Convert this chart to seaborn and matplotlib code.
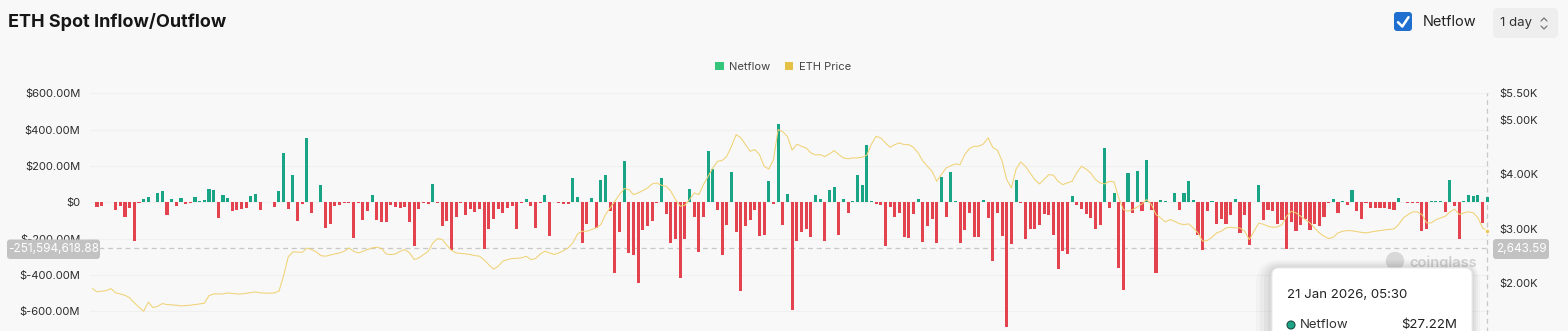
import numpy as np
import pandas as pd
import matplotlib
matplotlib.use("Agg")
import matplotlib.pyplot as plt
import seaborn as sns
from matplotlib.patches import FancyBboxPatch, Patch, Circle
from matplotlib.lines import Line2D
from matplotlib.transforms import IdentityTransform

# ---------------- data (netflow in $M, one bar per day) ----------------
netflow = [
    4, -28, -20, 2, 2, -42, -20, -79, -31, -211,
    -2, 20, 29, 2, 51, 62, -72, 18, -20, 26,
    -9, -2, 31, 9, 11, 72, 66, -86, 42, 26,
    -50, -42, -35, -29, 35, 46, -44, 3, 2, -28,
    64, 272, -37, 150, -101, -12, 356, -57, 4, 95,
    -141, -119, -20, -14, -4, -2, -196, -3, -100, -46,
    42, -97, -108, -108, -13, -25, -31, -25, -106, -243,
    -39, -2, -9, 103, -2, -132, -104, -265, -82, -4,
    -68, -39, -55, -37, -259, -147, -92, -39, -60, -33,
    -20, -149, -2, 16, -23, -141, -3, 39, -186, 4,
    -3, -9, -9, 133, 30, -223, -119, 25, -143, 125,
    151, -47, -388, -166, 226, -281, -292, -443, -151, -133,
    -102, -2, 136, -62, -223, -200, -415, -200, 75, -83,
    -271, -81, 281, 185, -43, -292, -127, 169, -163, -491,
    -130, -98, -41, -185, -182, 118, -9, 433, -127, 48,
    -595, -215, -163, -148, -193, 39, 20, -214, 69, 84,
    -182, 18, -57, 7, 149, 94, 317, 9, -7, -13,
    -243, -26, -83, -60, -193, -197, -65, 20, -220, -131,
    -90, -225, 137, -82, 169, 9, -225, -155, -61, -189,
    -189, 13, -86, -325, -60, -188, -686, -230, 124, -2,
    -200, -149, -149, -127, -62, -72, -178, -365, -268, -286,
    35, -13, -39, -62, -86, -149, -127, 297, -31, 50,
    -363, -484, 162, -57, 171, -47, 231, -40, -391, 11,
    7, 2, 52, -44, 53, 118, 13, -180, -264, -50,
    6, -119, -90, -118, -72, 17, -170, -69, -235, 2,
    96, -99, -45, -49, -122, -100, -255, -106, -156, -123,
    -92, -150, -117, -133, -83, -3, 20, -60, 5, -16,
    70, -48, -90, -4, -30, -31, -33, -31, -37, -40,
    26, 2, -3, -3, -4, -156, -146, 7, 9, 7,
    -56, 120, -22, -200, 5, 42, 32, 41, -114, 27.22,
]

# ETH price read at these day indices
price_idx = [
    0, 1, 3, 4, 5, 6, 7, 8, 9, 10, 11, 12, 13, 14, 15, 16, 18, 19, 21, 22,
    24, 25, 26, 28, 29, 31, 32, 34, 35, 36, 38, 39, 40, 41, 42, 43, 45, 46, 47, 48,
    49, 50, 52, 53, 54, 55, 56, 57, 58, 60, 61, 62, 63, 64, 65, 66, 67, 68, 69, 70,
    71, 72, 73, 74, 75, 76, 77, 78, 80, 81, 82, 83, 84, 85, 86, 87, 88, 89, 90, 92,
    93, 94, 95, 96, 97, 98, 99, 100, 101, 102, 103, 104, 105, 106, 107, 108, 109, 110, 111, 112,
    113, 114, 115, 116, 117, 118, 119, 120, 121, 122, 123, 124, 125, 126, 127, 128, 129, 130, 131, 132,
    133, 134, 135, 136, 137, 138, 139, 140, 141, 142, 143, 144, 145, 146, 147, 148, 149, 150, 151, 152,
    153, 154, 155, 156, 157, 158, 159, 160, 161, 162, 163, 164, 165, 166, 167, 168, 169, 170, 171, 172,
    173, 174, 175, 176, 177, 178, 179, 180, 181, 182, 183, 184, 185, 186, 187, 188, 189, 190, 191, 192,
    193, 194, 195, 196, 197, 198, 199, 200, 201, 202, 203, 204, 205, 206, 207, 208, 210, 211, 212, 213,
    214, 215, 216, 217, 218, 219, 220, 221, 222, 223, 224, 225, 226, 227, 228, 229, 230, 231, 232, 233,
    234, 235, 236, 237, 238, 239, 240, 241, 242, 243, 244, 245, 246, 247, 248, 249, 250, 251, 252, 253,
    254, 255, 256, 257, 258, 259, 260, 261, 262, 263, 264, 265, 266, 267, 268, 269, 270, 272, 273, 275,
    276, 277, 279, 280, 281, 282, 283, 284, 285, 286, 287, 288, 289, 290, 291, 292, 293, 294, 295, 296,
    297, 298, 299,
]
price_val = [
    1891, 1830, 1854, 1891, 1811, 1792, 1768, 1719, 1627, 1546, 1472, 1640, 1540, 1564, 1614, 1596, 1583, 1571, 1583, 1596,
    1620, 1760, 1792, 1792, 1811, 1792, 1792, 1817, 1830, 1811, 1805, 1811, 1842, 2130, 2480, 2570, 2560, 2640, 2612, 2569,
    2500, 2489, 2532, 2550, 2581, 2643, 2581, 2550, 2581, 2643, 2655, 2630, 2530, 2520, 2532, 2581, 2612, 2550, 2427, 2458,
    2520, 2581, 2735, 2815, 2797, 2692, 2593, 2550, 2532, 2520, 2501, 2489, 2420, 2330, 2250, 2304, 2400, 2427, 2446, 2458,
    2489, 2427, 2446, 2530, 2581, 2550, 2520, 2550, 2593, 2643, 2735, 2900, 2951, 2951, 2982, 3012, 3074, 3259, 3382, 3505,
    3628, 3739, 3721, 3628, 3659, 3702, 3751, 3825, 3844, 3800, 3782, 3690, 3536, 3413, 3431, 3536, 3659, 3628, 3813, 3967,
    4121, 4244, 4257, 4337, 4521, 4737, 4680, 4550, 4429, 4460, 4368, 4152, 4100, 4275, 4830, 4790, 4700, 4450, 4560, 4520,
    4491, 4400, 4360, 4368, 4330, 4380, 4441, 4370, 4306, 4290, 4306, 4306, 4318, 4355, 4560, 4706, 4676, 4583, 4503, 4552,
    4583, 4552, 4552, 4500, 4400, 4250, 4150, 4060, 3874, 4000, 4120, 4160, 4195, 4183, 4368, 4478, 4521, 4521, 4565, 4676,
    4500, 4450, 4250, 3906, 3751, 4100, 4232, 4152, 4030, 3906, 3825, 3906, 3998, 3985, 3874, 3813, 3874, 4029, 4152, 4100,
    4029, 3906, 3844, 3825, 3874, 3862, 3567, 3351, 3320, 3351, 3400, 3456, 3536, 3444, 3259, 3197, 3124, 3166, 3135, 3090,
    3074, 3087, 3012, 2920, 2766, 2780, 2840, 2920, 2951, 3012, 3025, 3012, 3012, 2951, 2797, 2951, 3100, 3080, 3043, 3025,
    3030, 3074, 3228, 3320, 3290, 3228, 3166, 3105, 3012, 2920, 2858, 2815, 2840, 2920, 2951, 2963, 2960, 2930, 2920, 2951,
    2963, 2975, 2994, 3074, 3197, 3259, 3308, 3308, 3259, 3105, 3105, 3166, 3197, 3228, 3308, 3360, 3260, 3290, 3310, 3290,
    3200, 3010, 2963,
]

left_ticks = [600, 400, 200, 0, -200, -400, -600]
left_labels = ["$600.00M", "$400.00M", "$200.00M", "$0", "$-200.00M", "$-400.00M", "$-600.00M"]
right_ticks = [5500, 5000, 4000, 3000, 2000]
right_labels = ["$5.50K", "$5.00K", "$4.00K", "$3.00K", "$2.00K"]

title = "ETH Spot Inflow/Outflow"
legend_labels = ["Netflow", "ETH Price"]
interval_label = "1 day"
hover_date = "21 Jan 2026, 05:30"
hover_netflow_label = "$27.22M"
cross_netflow = -251.59461888        # $M, crosshair level
cross_left_label = "-251,594,618.88"
cross_right_label = "2,643.59"

# ---------------- style ----------------
BG = "#f8f8f8"
GREEN = "#19a485"
RED = "#e3434f"
YELLOW = "#f0d275"
LEG_GREEN = "#34c47c"
LEG_YELLOW = "#e6c045"

sns.set_theme(style="white")
plt.rcParams["font.family"] = ["Inter", "DejaVu Sans"]

W, H = 1568, 331
fig = plt.figure(figsize=(W / 100, H / 100), dpi=100)
fig.patch.set_facecolor(BG)

# axes extends below the visible (cropped) area
top_px, bot_px = 93.3, 347.6
left_px, right_px = 90.0, 1489.6
ax = fig.add_axes([left_px / W, 1 - bot_px / H, (right_px - left_px) / W, (bot_px - top_px) / H])
ax.set_facecolor(BG)

df = pd.DataFrame({"day": np.arange(len(netflow)), "netflow": netflow})
df["dir"] = np.where(df["netflow"] >= 0, "in", "out")
sns.barplot(data=df, x="day", y="netflow", hue="dir", palette={"in": GREEN, "out": RED},
            dodge=False, width=0.66, legend=False, saturation=1, ax=ax, zorder=2)
for p in ax.patches:
    p.set_clip_on(False)
    p.set_linewidth(0)

ax.set_ylim(-800, 600)
ax.set_xlim(-0.5, len(netflow) - 0.5)
ax.set_xticks([])
ax.set_xlabel("")
ax.set_ylabel("")
ax.set_yticks(left_ticks, left_labels)
ax.tick_params(axis="y", length=0, pad=7, labelsize=8, labelcolor="#2b2b2b")
for t in left_ticks:
    ax.axhline(t, color="#f0f0f0", lw=0.8, zorder=0)
for s in ax.spines.values():
    s.set_visible(False)

ax2 = ax.twinx()
sns.lineplot(x=price_idx, y=price_val, ax=ax2, color=YELLOW, linewidth=0.75, zorder=3)
ax2.scatter([price_idx[-1]], [price_val[-1]], s=12, color="#e9c658", edgecolor="white", linewidth=0.8,
            zorder=4, clip_on=False)
ax2.set_ylim(5500 - (bot_px - top_px) / 0.05411, 5500)
ax2.set_xlim(-0.5, len(netflow) - 0.5)
ax2.set_yticks(right_ticks, right_labels)
ax2.tick_params(axis="y", length=0, pad=7, labelsize=8, labelcolor="#2b2b2b")
ax2.set_ylabel("")
for s in ax2.spines.values():
    s.set_visible(False)

# crosshair
ax.axhline(cross_netflow, color="#c8c8c8", lw=0.9, ls=(0, (4, 3)), zorder=1)
ax.axvline(len(netflow) - 1, color="#c8c8c8", lw=0.9, ls=(0, (4, 3)), zorder=1)

# ---------------- chrome (pixel coordinates) ----------------
ID = IdentityTransform()


def box(x0, y0, x1, y1, fc, ec="none", r=3, z=5, alpha=1.0, lw=0.8):
    p = FancyBboxPatch((x0, H - y1), x1 - x0, y1 - y0,
                       boxstyle=f"round,pad=0,rounding_size={r}",
                       transform=ID, fc=fc, ec=ec, lw=lw, zorder=z, alpha=alpha)
    fig.add_artist(p)


def text(x, y, s, **kw):
    kw.setdefault("zorder", 12)
    fig.text(x, H - y, s, transform=ID, **kw)


text(8, 22, title, fontsize=13, fontweight="bold", va="center", ha="left", color="#161616")

# netflow checkbox
box(1394, 12, 1412, 31, "#1e6fd0", r=3, z=6)
fig.add_artist(Line2D([1398, 1402.3, 1408.5], [H - 22.2, H - 26.5, H - 17.2], transform=ID,
                      color="white", lw=1.8, solid_capstyle="round", solid_joinstyle="round", zorder=7))
text(1423, 22, "Netflow", fontsize=10.5, va="center", ha="left", color="#222222")

# interval selector
box(1493, 8, 1558, 38, "#eeeeee", r=5, z=5)
text(1500, 23, interval_label, fontsize=9.5, va="center", ha="left", color="#333333")
fig.add_artist(Line2D([1541, 1544, 1547], [H - 21, H - 18, H - 21], transform=ID, color="#777777", lw=0.9, zorder=6))
fig.add_artist(Line2D([1541, 1544, 1547], [H - 26, H - 29, H - 26], transform=ID, color="#777777", lw=0.9, zorder=6))

# legend
handles = [Patch(facecolor=LEG_GREEN, edgecolor="none"), Patch(facecolor=LEG_YELLOW, edgecolor="none")]
fig.legend(handles, legend_labels, loc="center", bbox_to_anchor=(783 / W, 1 - 67 / H), ncol=2,
           frameon=False, fontsize=8, handlelength=0.75, handleheight=0.75, handletextpad=0.5,
           columnspacing=1.3, labelcolor="#444444")

# crosshair labels
box(7, 239.5, 100, 259, "#c2c2c2", r=3, z=8)
text(53.5, 249.5, cross_left_label, fontsize=8.5, va="center", ha="center", color="white")
box(1493, 239, 1549, 259, "#c2c2c2", r=3, z=8)
text(1521, 249, cross_right_label, fontsize=8.5, va="center", ha="center", color="white")

# watermark
fig.add_artist(Circle((1395, H - 261), 8.5, transform=ID, color="#d8d8d8", zorder=4))
text(1409, 263, "coinglass", fontsize=10.5, fontweight="semibold", va="center", ha="left", color="#d0d0d0", zorder=4)

# tooltip with soft shadow
for k, a in enumerate([0.025, 0.03, 0.035, 0.04]):
    g = 16 - 4 * k
    box(1272 - g, 268 - g / 2, 1472 + g / 2, 360, "#000000", r=8 + g, z=9, alpha=a)
box(1272, 268, 1472, 360, "white", ec="#ececec", r=7, z=10)
text(1287, 295, hover_date, fontsize=9.5, va="center", ha="left", color="#222222")
fig.add_artist(Circle((1291, H - 325), 4, transform=ID, fc=GREEN, ec="#1d4f44", lw=0.8, zorder=11))
text(1300, 325, "Netflow", fontsize=9.5, va="center", ha="left", color="#333333")
text(1457, 325, hover_netflow_label, fontsize=9.5, va="center", ha="right", color="#222222")

fig.savefig("out.png", dpi=100, facecolor=BG)
